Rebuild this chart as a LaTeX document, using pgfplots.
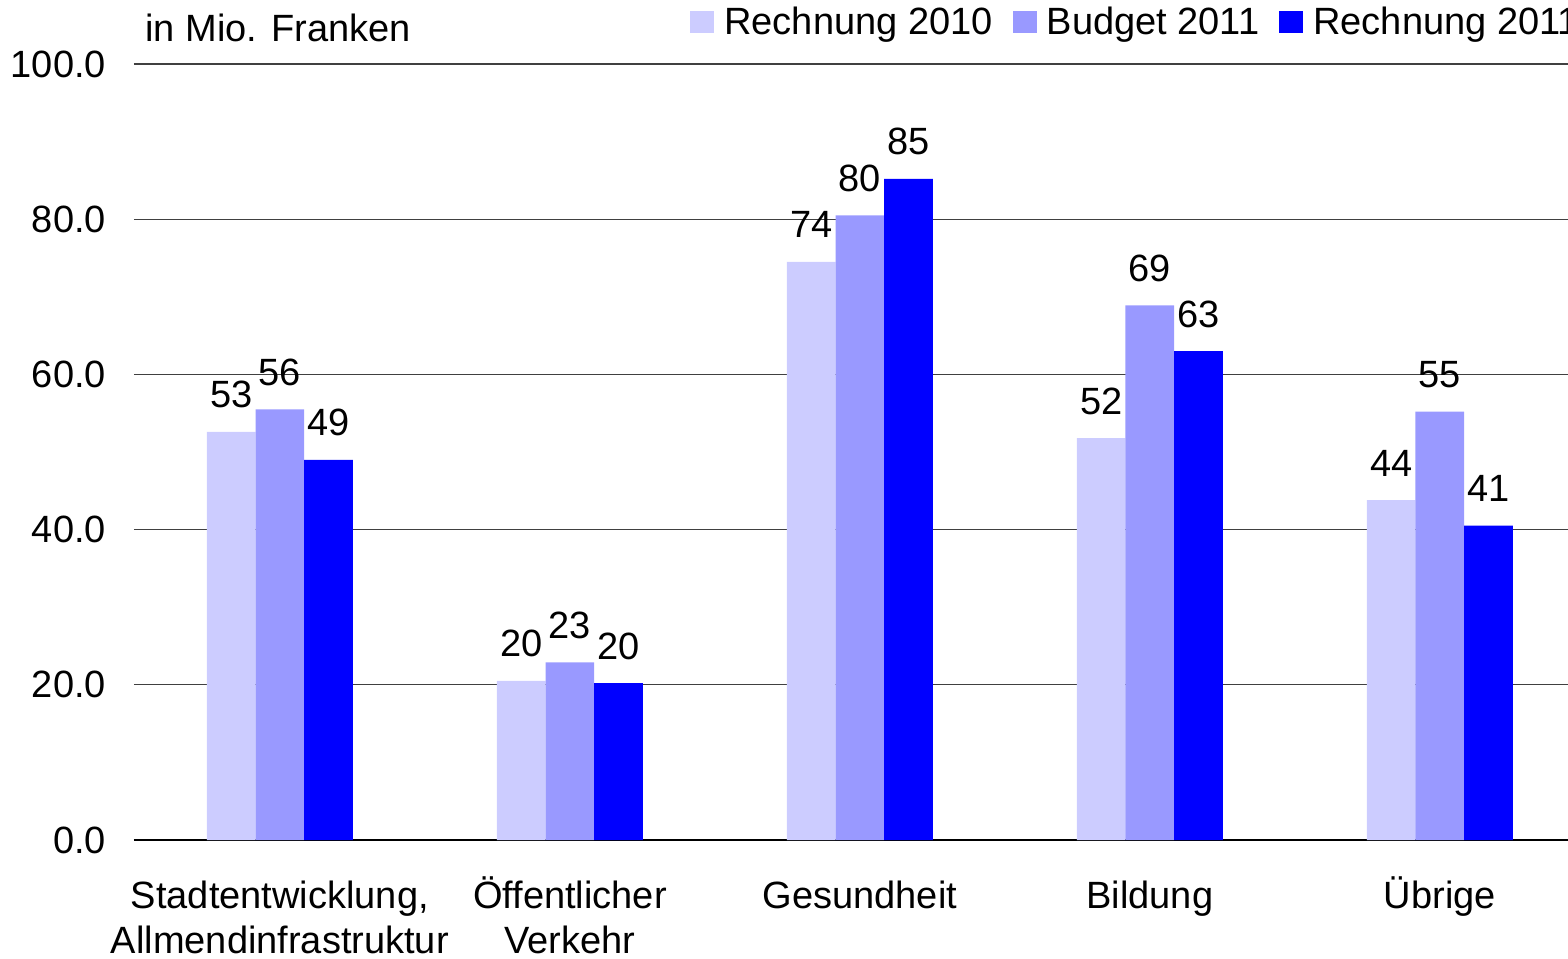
\documentclass[border=0pt]{standalone}
\usepackage{pgfplots}
\pgfplotsset{compat=1.18}
\usepackage{fontspec}
\setmainfont{Liberation Sans}
\definecolor{cA}{RGB}{204,204,255}
\definecolor{cB}{RGB}{153,153,255}
\definecolor{cC}{RGB}{0,0,255}
\newcommand{\fs}{\fontsize{19}{22.5}\selectfont}
\newcommand{\R}{\rule{0pt}{18pt}}
\begin{document}
\begin{tikzpicture}
\useasboundingbox (-67pt,-59pt) rectangle (717pt,420pt);
\begin{axis}[
  at={(0,0)}, anchor=south west,
  scale only axis, width=717pt, height=388pt,
  xmin=-0.503, xmax=4.442, ymin=0, ymax=100,
  clip=false,
  ybar=0pt, bar width=24.35pt,
  axis x line*=bottom, axis y line*=left,
  x axis line style={-, black, line width=0.8pt},
  y axis line style={draw=none},
  ytick={0,20,...,100},
  ymajorgrids, grid style={black!75, line width=0.6pt},
  major tick length=0pt,
  yticklabel style={/pgf/number format/fixed, /pgf/number format/fixed zerofill, /pgf/number format/precision=1, xshift=-10.5pt},
  /pgf/number format/assume math mode=true,
  tick label style={font=\fs},
  xtick={0,...,4},
  xticklabels={{\R Stadtentwicklung,\\Allmendinfrastruktur},{\R Öffentlicher\\Verkehr},\R Gesundheit,\R Bildung,\R Übrige},
  xticklabel style={align=center, anchor=north, inner sep=0pt, yshift=-16pt},
  point meta=explicit symbolic,
  nodes near coords,
  every node near coord/.append style={font=\fs, anchor=base, yshift=12pt, inner sep=0pt},
  legend columns=3,
  legend style={at={(0.3877,1.0535)}, anchor=west, draw=none, fill=none, inner sep=0pt, font=\fs,
    /tikz/every odd column/.append style={column sep=3pt},
    /tikz/every even column/.append style={column sep=8pt}},
  legend image code/.code={\fill[#1] (0pt,-5.5pt) rectangle (12pt,5.5pt);},
]
\addplot[fill=cA, draw=none] coordinates {(0,52.6)[53] (1,20.5)[20] (2,74.5)[74] (3,51.8)[52] (4,43.8)[44]};
\addplot[fill=cB, draw=none] coordinates {(0,55.5)[56] (1,22.9)[23] (2,80.5)[80] (3,68.9)[69] (4,55.2)[55]};
\addplot[fill=cC, draw=none] coordinates {(0,49.0)[49] (1,20.2)[20] (2,85.2)[85] (3,63.0)[63] (4,40.5)[41]};
\legend{Rechnung 2010, Budget 2011, Rechnung 2011}
\node[anchor=base west, inner sep=0pt, font=\fs] at (rel axis cs:0.0077,1.0284) {in Mio. Franken};
\end{axis}
\end{tikzpicture}
\end{document}
